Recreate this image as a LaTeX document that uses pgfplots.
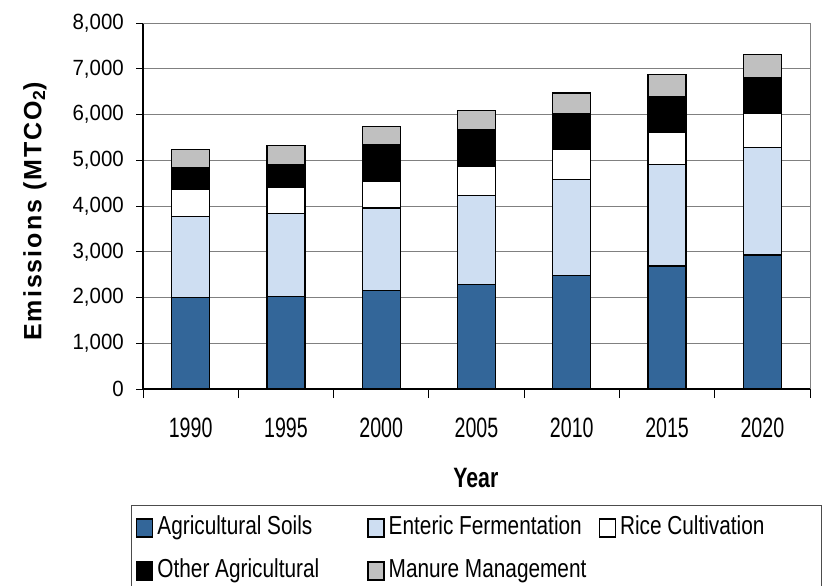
\documentclass[border=0pt]{standalone}
\usepackage{fontspec}
\setmainfont{Liberation Sans}
\usepackage{pgfplots}
\usepackage{pgfplotstable}
\pgfplotsset{compat=1.18}
\newfontfamily\ytfont[FakeStretch=0.93]{Liberation Sans}
\newfontfamily\xtfont[FakeStretch=0.70]{Liberation Sans}
\newfontfamily\yearfont[FakeStretch=0.76]{Liberation Sans}
\newfontfamily\legfont[FakeStretch=0.80]{Liberation Sans}
\newfontfamily\ylabfont[LetterSpace=8]{Liberation Sans}
\definecolor{soil}{RGB}{51,102,153}
\definecolor{enteric}{RGB}{206,222,242}
\definecolor{manure}{RGB}{192,192,192}
\definecolor{gridgray}{RGB}{128,128,128}
\pgfplotstableread{
x soils enteric rice other manure
0 2005 1765 585 475 400
1 2020 1810 585 490 415
2 2145 1810 590 795 395
3 2290 1940 635 800 415
4 2475 2100 670 775 450
5 2690 2210 715 780 475
6 2930 2350 745 790 505
}\datatable
\pgfplotsset{mylegimg/.style={legend image code/.code={\draw[##1, line width=1.3bp] (0bp,-9bp) rectangle (16bp,9bp);}}}
\begin{document}
\begin{tikzpicture}
\path[use as bounding box] (0,0) rectangle (825bp,586bp);
\begin{axis}[
  at={(143bp,197bp)}, anchor=south west,
  scale only axis, width=667bp, height=366bp,
  ybar stacked, bar width=38bp,
  xmin=-0.5, xmax=6.5, ymin=0, ymax=8000,
  xtick={0,...,6}, xticklabels={1990,1995,2000,2005,2010,2015,2020},
  minor xtick={-0.5,0.5,...,6.5},
  major x tick style={draw=none},
  ytick={0,1000,...,8000},
  tick align=outside, major tick length=7bp, minor tick length=9bp,
  tick style={black, line width=0.8bp},
  axis x line*=bottom, axis y line*=left,
  axis line style={-, black, line width=1.2bp},
  ymajorgrids, grid style={gridgray, line width=0.8bp},
  /pgf/number format/assume math mode=true,
  /pgf/number format/1000 sep={,},
  yticklabel style={font=\ytfont\fontsize{22bp}{26bp}\selectfont, inner sep=0pt, xshift=-12bp},
  xticklabel style={font=\xtfont\fontsize{28bp}{32bp}\selectfont, inner sep=0pt, anchor=north, yshift=-22bp},
  xlabel={\bfseries Year},
  xlabel style={font=\yearfont\fontsize{28bp}{32bp}\selectfont, at={(axis description cs:0.499,-0.243)}, anchor=center},
  ylabel={\bfseries Emissions (MTCO\textsubscript{2})},
  ylabel style={font=\ylabfont\fontsize{25bp}{30bp}\selectfont, at={(axis description cs:-0.162,0.485)}, anchor=center},
  legend columns=3,
  legend cell align=left,
  legend style={at={(axis description cs:-0.0184,-0.317)}, anchor=north west,
    draw=black!70, line width=0.8bp, inner xsep=5bp, inner ysep=10bp,
    font=\legfont\fontsize{26bp}{30bp}\selectfont,
    nodes={inner sep=0pt, text height=19bp, text depth=6bp},
    row sep=18bp,
    /tikz/every odd column/.append style={column sep=4bp}},
  after end axis/.code={\draw[gridgray, line width=0.8bp] (rel axis cs:0,1) -- (rel axis cs:1,1) -- (rel axis cs:1,0);},
]
\addplot[fill=soil, draw=black, line width=1.2bp, mylegimg] table[x=x,y=soils]{\datatable};
\addlegendentry{\makebox[210bp][l]{Agricultural Soils}}
\addplot[fill=enteric, draw=black, line width=1.2bp, mylegimg] table[x=x,y=enteric]{\datatable};
\addlegendentry{\makebox[210bp][l]{Enteric Fermentation}}
\addplot[fill=white, draw=black, line width=1.2bp, mylegimg] table[x=x,y=rice]{\datatable};
\addlegendentry{\makebox[196bp][l]{Rice Cultivation}}
\addplot[fill=black, draw=black, line width=1.2bp, mylegimg] table[x=x,y=other]{\datatable};
\addlegendentry{\makebox[210bp][l]{Other Agricultural}}
\addplot[fill=manure, draw=black, line width=1.2bp, mylegimg] table[x=x,y=manure]{\datatable};
\addlegendentry{\makebox[210bp][l]{Manure Management}}
\end{axis}
\end{tikzpicture}
\end{document}
